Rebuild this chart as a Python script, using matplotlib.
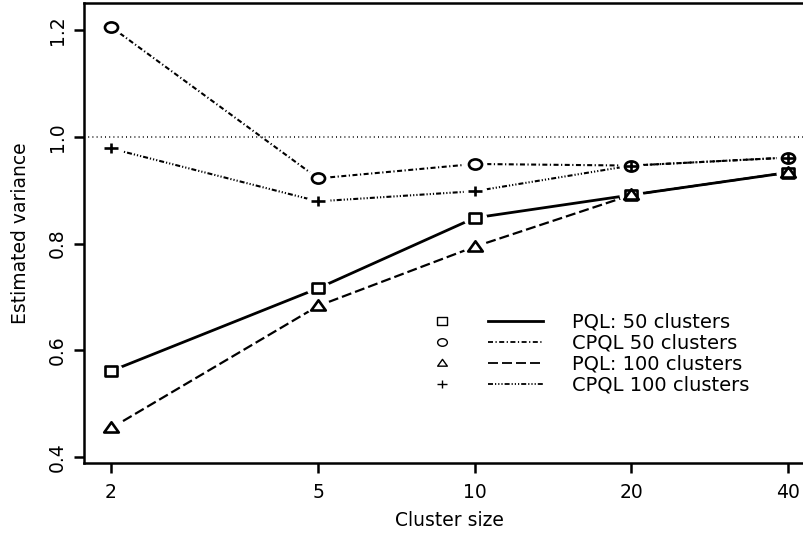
import matplotlib
matplotlib.use('Agg')
import matplotlib.pyplot as plt
import numpy as np
from matplotlib.path import Path
from matplotlib.lines import Line2D
from matplotlib.legend_handler import HandlerTuple
from matplotlib.ticker import NullLocator

# ---- data ----
cluster_size = [2, 5, 10, 20, 40]
pql_50 = [0.561, 0.716, 0.848, 0.891, 0.933]
cpql_50 = [1.206, 0.922, 0.949, 0.946, 0.961]
pql_100 = [0.454, 0.683, 0.794, 0.891, 0.933]
cpql_100 = [0.978, 0.879, 0.898, 0.946, 0.961]
series_labels = ['PQL: 50 clusters', 'CPQL 50 clusters',
                 'PQL: 100 clusters', 'CPQL 100 clusters']
x_ticks = [2, 5, 10, 20, 40]
y_ticks = [0.4, 0.6, 0.8, 1.0, 1.2]
reference_level = 1.0

plt.rcParams['font.family'] = ['DejaVu Sans']
plt.rcParams['lines.scale_dashes'] = False

# ---- markers (slightly wide, like the reference) ----
AS = 0.8
sq = Path([(-1, -AS), (1, -AS), (1, AS), (-1, AS), (-1, -AS)],
          [Path.MOVETO, Path.LINETO, Path.LINETO, Path.LINETO, Path.CLOSEPOLY])
uc = Path.unit_circle()
circ = Path(uc.vertices * np.array([1.0, 0.78]), uc.codes)
tri = Path([(-1, -0.55), (1, -0.55), (0, 0.85), (-1, -0.55)],
           [Path.MOVETO, Path.LINETO, Path.LINETO, Path.CLOSEPOLY])
plus = Path([(-1, 0), (1, 0), (0, -0.8), (0, 0.8)],
            [Path.MOVETO, Path.LINETO, Path.MOVETO, Path.LINETO])
halo = Path(uc.vertices * np.array([1.0, 0.8]), uc.codes)

px = 0.72  # points per pixel
styles = [
    dict(y=pql_50, marker=sq, ms=9.1, lw=2.0, ls='-'),
    dict(y=cpql_50, marker=circ, ms=9.4, lw=1.5,
         ls=(0, (5 * px, 2.5 * px, 1.2 * px, 2.5 * px))),
    dict(y=pql_100, marker=tri, ms=10.5, lw=1.6,
         ls=(0, (10 * px, 4 * px))),
    dict(y=cpql_100, marker=plus, ms=9.4, lw=1.5,
         ls=(0, (5 * px, 2 * px, 1.2 * px, 2 * px, 1.2 * px, 2 * px, 1.2 * px, 2 * px))),
]

fig = plt.figure(figsize=(8.04, 5.39), dpi=100)
L, R, B, T = 84, 815, 463, 3
W, H = 804, 539
ax = fig.add_axes([L / W, 1 - B / H, (R - L) / W, (B - T) / H])
ax.set_xscale('log')
ax.set_xlim(1.7751, 45.07)
ax.set_ylim(0.38876, 1.25059)

ax.axhline(reference_level, color='black', lw=1.1,
           ls=(0, (1 * px, 3.2 * px)), zorder=1)

for st in styles:
    ax.plot(cluster_size, st['y'], color='black', lw=st['lw'], ls=st['ls'],
            zorder=2, solid_capstyle='butt', dash_capstyle='butt')
for st in styles:
    ax.plot(cluster_size, st['y'], ls='none', marker=halo, ms=17,
            mfc='white', mec='none', zorder=3)
for st in styles:
    ax.plot(cluster_size, st['y'], ls='none', marker=st['marker'], ms=st['ms'],
            mfc='none', mec='black', mew=1.9, zorder=4)

ax.set_xticks(x_ticks, labels=[str(t) for t in x_ticks])
ax.xaxis.set_minor_locator(NullLocator())
ax.set_yticks(y_ticks, labels=[f'{v:.1f}' for v in y_ticks])
ax.tick_params(axis='both', direction='out', length=7.2, width=1.8,
               labelsize=13.5, color='black')
ax.tick_params(axis='x', pad=7.5)
ax.tick_params(axis='y', pad=5, labelrotation=90)
for lab in ax.get_yticklabels():
    lab.set_va('center')
for name, sp in ax.spines.items():
    sp.set_linewidth(1.8)
ax.spines['right'].set_visible(False)

ax.set_xlabel('Cluster size', fontsize=13.5, labelpad=6)
ax.set_ylabel('Estimated variance', fontsize=13.5, labelpad=13)

# ---- legend ----
handles = []
for st, lab in zip(styles, series_labels):
    mk = Line2D([], [], ls='none', marker=st['marker'], ms=7, mfc='none',
                mec='black', mew=1.0)
    ln = Line2D([], [], color='black', lw=st['lw'] if st['ls'] == '-' else 1.3,
                ls=st['ls'])
    handles.append((mk, ln))
fs_leg = 14
ax.legend(handles, series_labels,
          handler_map={tuple: HandlerTuple(ndivide=None, pad=13.3 / fs_leg)},
          loc='upper left', bbox_to_anchor=(0.4521, 0.3272), frameon=False,
          fontsize=fs_leg, handlelength=92.5 / fs_leg, handletextpad=20.9 / fs_leg,
          labelspacing=0.1, borderpad=0, borderaxespad=0, numpoints=1)

fig.savefig('out.png', dpi=100)
